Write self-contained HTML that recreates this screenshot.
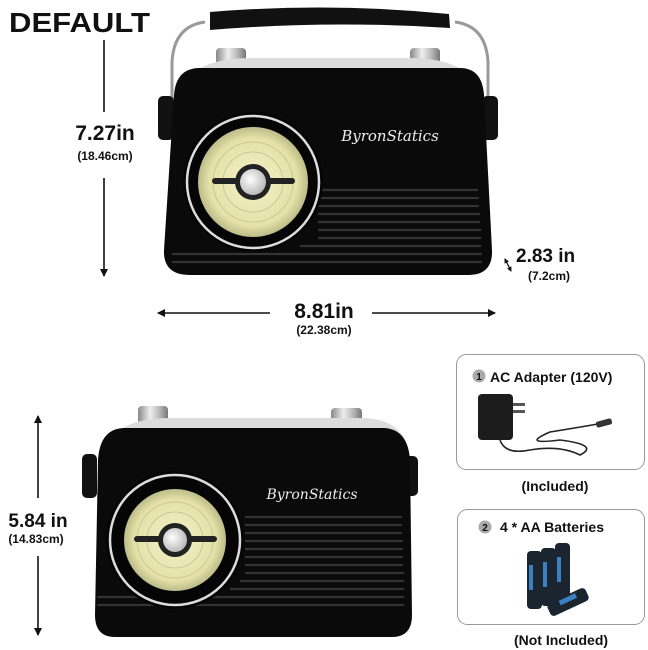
<!DOCTYPE html>
<html><head><meta charset="utf-8"><style>
html,body{margin:0;padding:0;background:#fff;}
svg{display:block;}
text{font-family:"Liberation Sans",sans-serif;font-weight:bold;fill:#111;}
</style></head><body>
<svg width="648" height="650" viewBox="0 0 648 650" xmlns="http://www.w3.org/2000/svg">
<defs>
<radialGradient id="yel" cx="50%" cy="50%" r="50%"><stop offset="0" stop-color="#f3f1c8"/><stop offset="0.8" stop-color="#e4e2a8"/><stop offset="1" stop-color="#bdbb88"/></radialGradient>
<linearGradient id="chrome" x1="0" x2="1"><stop offset="0" stop-color="#888"/><stop offset="0.4" stop-color="#eee"/><stop offset="0.7" stop-color="#bbb"/><stop offset="1" stop-color="#777"/></linearGradient>
<radialGradient id="cen" cx="40%" cy="40%" r="60%"><stop offset="0" stop-color="#fff"/><stop offset="1" stop-color="#bbb"/></radialGradient>
<marker id="ah" markerWidth="8" markerHeight="8" refX="7" refY="4" orient="auto" markerUnits="userSpaceOnUse"><path d="M0,0 L8,4 L0,8 Z" fill="#111"/></marker>
<marker id="sa" markerWidth="5" markerHeight="5" refX="4" refY="2.5" orient="auto-start-reverse" markerUnits="userSpaceOnUse"><path d="M0,0 L5,2.5 L0,5 Z" fill="#111"/></marker>
</defs>

<text x="9" y="32" font-size="28" textLength="141" lengthAdjust="spacingAndGlyphs">DEFAULT</text>

<!-- TOP RADIO -->
<path d="M172,120 L172,62 Q174,26 205,22" fill="none" stroke="#999" stroke-width="3"/>
<path d="M488,120 L488,62 Q486,26 455,22" fill="none" stroke="#999" stroke-width="3"/>
<path d="M210,12 Q330,2 449,14 L450,28 Q330,20 210,30 Z" fill="#111"/>
<rect x="216" y="48" width="30" height="20" rx="4" fill="url(#chrome)"/>
<rect x="410" y="48" width="30" height="20" rx="4" fill="url(#chrome)"/>
<path d="M190,75 Q210,58 250,58 L410,58 Q450,58 470,75 Z" fill="#ddd"/>
<rect x="158" y="96" width="16" height="44" rx="5" fill="#111"/>
<rect x="482" y="96" width="16" height="44" rx="5" fill="#111"/>
<path d="M200,68 L460,68 Q482,68 484,95 L492,250 Q493,275 468,275 L190,275 Q163,275 164,250 L174,95 Q176,68 200,68 Z" fill="#0a0a0a"/>
<g stroke="#333" stroke-width="2.2">
<line x1="318" y1="190" x2="478" y2="190"/><line x1="318" y1="198" x2="479" y2="198"/><line x1="318" y1="206" x2="479" y2="206"/><line x1="318" y1="214" x2="480" y2="214"/><line x1="318" y1="222" x2="480" y2="222"/><line x1="318" y1="230" x2="481" y2="230"/><line x1="318" y1="238" x2="481" y2="238"/><line x1="300" y1="246" x2="481" y2="246"/><line x1="172" y1="254" x2="482" y2="254"/><line x1="172" y1="262" x2="482" y2="262"/>
</g>
<circle cx="253" cy="182" r="70" fill="#050505"/>
<circle cx="253" cy="182" r="66" fill="none" stroke="#ddd" stroke-width="2.5"/>
<circle cx="253" cy="182" r="55" fill="url(#yel)"/>
<circle cx="253" cy="182" r="40" fill="none" stroke="#c9c79a" stroke-width="1"/>
<circle cx="253" cy="182" r="30" fill="none" stroke="#c9c79a" stroke-width="1"/>
<rect x="212" y="178" width="83" height="6" rx="3" fill="#222"/>
<circle cx="253" cy="182" r="18" fill="#222"/>
<circle cx="253" cy="182" r="13" fill="url(#cen)"/>
<text x="390" y="141" font-size="15" text-anchor="middle" style="font-family:'DejaVu Serif',serif;font-style:italic;font-weight:normal;fill:#eee">ByronStatics</text>

<line x1="104" y1="40" x2="104" y2="112" stroke="#111" stroke-width="1.6"/>
<line x1="104" y1="178" x2="104" y2="276" stroke="#111" stroke-width="1.6" marker-end="url(#ah)"/>
<text x="105" y="140" font-size="21" text-anchor="middle">7.27in</text>
<text x="105" y="160" font-size="12" text-anchor="middle">(18.46cm)</text>
<line x1="270" y1="313" x2="158" y2="313" stroke="#111" stroke-width="1.6" marker-end="url(#ah)"/>
<line x1="372" y1="313" x2="495" y2="313" stroke="#111" stroke-width="1.6" marker-end="url(#ah)"/>
<text x="324" y="318" font-size="21" text-anchor="middle">8.81in</text>
<text x="324" y="334" font-size="12" text-anchor="middle">(22.38cm)</text>
<line x1="505" y1="259" x2="511" y2="271" stroke="#111" stroke-width="1.2" marker-start="url(#sa)" marker-end="url(#sa)"/>
<text x="516" y="262" font-size="19">2.83 in</text>
<text x="528" y="280" font-size="12">(7.2cm)</text>

<!-- BOTTOM RADIO -->
<rect x="138" y="406" width="30" height="20" rx="4" fill="url(#chrome)"/>
<rect x="331" y="408" width="31" height="20" rx="4" fill="url(#chrome)"/>
<path d="M110,440 Q125,418 170,418 L360,418 Q395,418 405,440 Z" fill="#ddd"/>
<rect x="82" y="454" width="15" height="44" rx="5" fill="#111"/>
<rect x="403" y="456" width="15" height="40" rx="5" fill="#111"/>
<path d="M125,428 L385,428 Q408,430 410,460 L412,615 Q412,637 392,637 L115,637 Q95,637 95,615 L98,460 Q100,428 125,428 Z" fill="#0a0a0a"/>
<g stroke="#333" stroke-width="2.2">
<line x1="245" y1="517" x2="402" y2="517"/><line x1="245" y1="525" x2="402" y2="525"/><line x1="245" y1="533" x2="402" y2="533"/><line x1="245" y1="541" x2="403" y2="541"/><line x1="245" y1="549" x2="403" y2="549"/><line x1="245" y1="557" x2="403" y2="557"/><line x1="245" y1="565" x2="403" y2="565"/><line x1="245" y1="573" x2="404" y2="573"/><line x1="240" y1="581" x2="404" y2="581"/><line x1="230" y1="589" x2="404" y2="589"/><line x1="97" y1="597" x2="404" y2="597"/><line x1="97" y1="605" x2="404" y2="605"/>
</g>
<circle cx="175" cy="540" r="69" fill="#050505"/>
<circle cx="175" cy="540" r="65" fill="none" stroke="#ddd" stroke-width="2.5"/>
<circle cx="175" cy="540" r="51" fill="url(#yel)"/>
<circle cx="175" cy="540" r="38" fill="none" stroke="#c9c79a" stroke-width="1"/>
<circle cx="175" cy="540" r="28" fill="none" stroke="#c9c79a" stroke-width="1"/>
<rect x="134" y="536" width="83" height="6" rx="3" fill="#222"/>
<circle cx="175" cy="540" r="17" fill="#222"/>
<circle cx="175" cy="540" r="12" fill="url(#cen)"/>
<text x="312" y="499" font-size="14" text-anchor="middle" style="font-family:'DejaVu Serif',serif;font-style:italic;font-weight:normal;fill:#eee">ByronStatics</text>

<line x1="38" y1="498" x2="38" y2="416" stroke="#111" stroke-width="1.6" marker-end="url(#ah)"/>
<line x1="38" y1="556" x2="38" y2="635" stroke="#111" stroke-width="1.6" marker-end="url(#ah)"/>
<text x="38" y="527" font-size="19" text-anchor="middle">5.84 in</text>
<text x="36" y="543" font-size="12" text-anchor="middle">(14.83cm)</text>

<rect x="456.5" y="354.5" width="188" height="115" rx="10" fill="#fff" stroke="#999" stroke-width="1"/>
<circle cx="479" cy="376" r="6.5" fill="#aaa"/>
<text x="479" y="380" font-size="10" text-anchor="middle">1</text>
<text x="490" y="382" font-size="14">AC Adapter (120V)</text>
<rect x="478" y="394" width="35" height="46" rx="4" fill="#1c1c1c"/>
<rect x="513" y="403" width="12" height="3" fill="#555"/>
<rect x="513" y="410" width="12" height="3" fill="#555"/>
<path d="M500,440 Q505,455 530,450 Q560,445 580,455 Q600,445 560,440 Q520,445 550,432 Q575,428 598,424" fill="none" stroke="#222" stroke-width="1.6"/>
<rect x="596" y="420" width="16" height="6" rx="2" fill="#333" transform="rotate(-15 604 423)"/>
<text x="555" y="491" font-size="14" text-anchor="middle">(Included)</text>

<rect x="457.5" y="509.5" width="187" height="115" rx="10" fill="#fff" stroke="#999" stroke-width="1"/>
<circle cx="485" cy="527" r="6.5" fill="#aaa"/>
<text x="485" y="531" font-size="10" text-anchor="middle">2</text>
<text x="500" y="532" font-size="14">4 * AA  Batteries</text>
<g>
<rect x="527" y="551" width="15" height="58" rx="4" fill="#1a2530"/>
<rect x="541" y="548" width="15" height="58" rx="4" fill="#1a2530"/>
<rect x="555" y="543" width="15" height="58" rx="4" fill="#1a2530"/>
<rect x="529" y="565" width="4" height="25" fill="#4aa6ff" opacity="0.7"/>
<rect x="543" y="562" width="4" height="25" fill="#4aa6ff" opacity="0.7"/>
<rect x="557" y="557" width="4" height="25" fill="#4aa6ff" opacity="0.7"/>
<rect x="547" y="595" width="42" height="14" rx="4" fill="#1a2530" transform="rotate(-25 568 602)"/>
<rect x="560" y="597" width="18" height="5" fill="#4aa6ff" opacity="0.7" transform="rotate(-25 568 602)"/>
</g>
<text x="561" y="645" font-size="14" text-anchor="middle">(Not Included)</text>
</svg>
</body></html>
